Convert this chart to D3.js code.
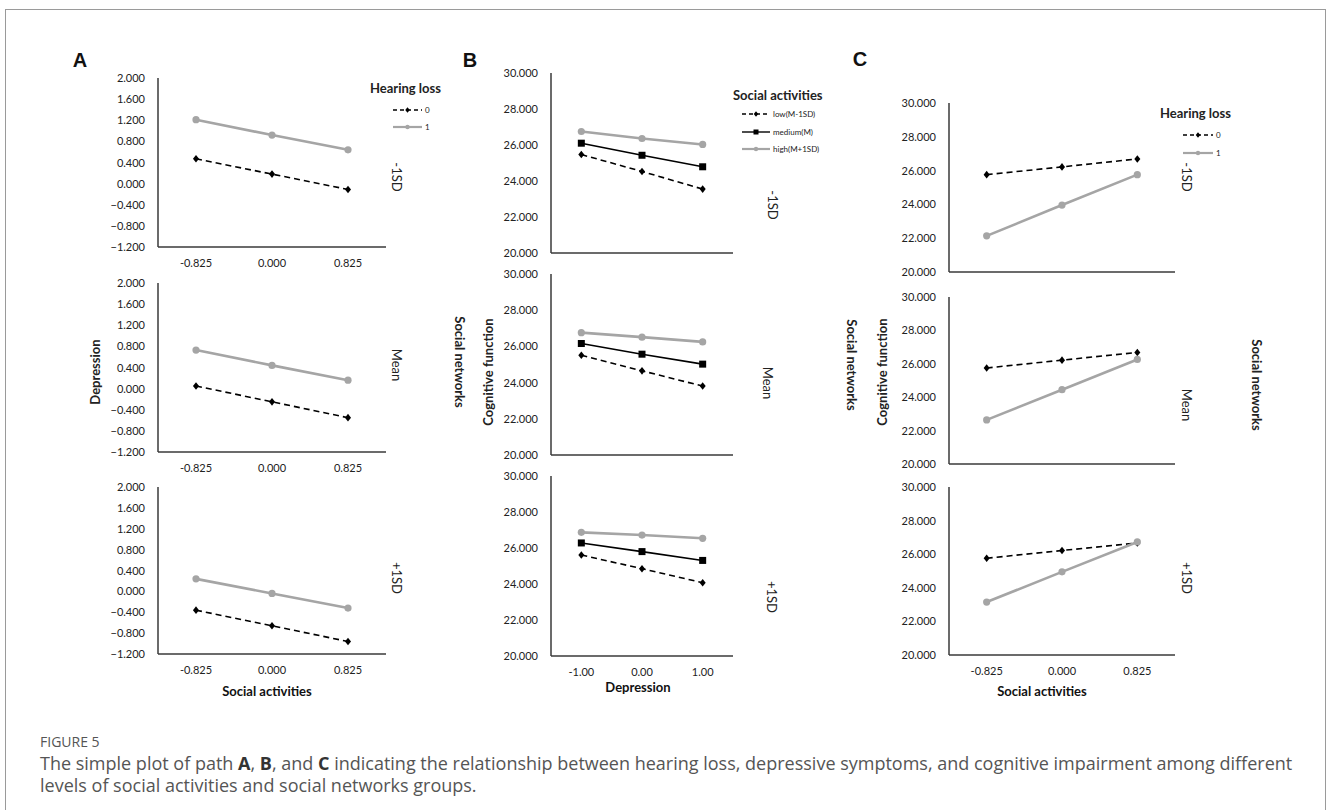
<!DOCTYPE html>
<html>
<head>
<meta charset="utf-8">
<script src="https://cdn.jsdelivr.net/npm/d3@7"></script>
<style>
  html, body { margin: 0; padding: 0; background: #fff; }
  svg { display: block; }
</style>
</head>
<body>
<svg id="chart" width="1328" height="810"></svg>
<script>
// ---------------- DATA ----------------
const catsSocialActivities = ["-0.825", "0.000", "0.825"];
const catsDepression = ["-1.00", "0.00", "1.00"];
const rowLabels = ["-1SD", "Mean", "+1SD"];

const ticksDepression = [-1.2, -0.8, -0.4, 0, 0.4, 0.8, 1.2, 1.6, 2.0];
const ticksCognitive = [20, 22, 24, 26, 28, 30];

// Panel A: Depression by social activities, per social-network level
const A_hearing0 = [[0.47, 0.18, -0.11], [0.05, -0.25, -0.55], [-0.36, -0.66, -0.96]];
const A_hearing1 = [[1.21, 0.92, 0.64], [0.73, 0.44, 0.16], [0.24, -0.04, -0.32]];

// Panel B: Cognitive function by depression, per social-network level
const B_low = [[25.47, 24.53, 23.55], [25.51, 24.65, 23.81], [25.61, 24.85, 24.07]];
const B_medium = [[26.10, 25.43, 24.79], [26.16, 25.57, 25.02], [26.28, 25.80, 25.31]];
const B_high = [[26.75, 26.36, 26.03], [26.76, 26.51, 26.25], [26.87, 26.72, 26.54]];

// Panel C: Cognitive function by social activities, per social-network level
const C_hearing0 = [[25.76, 26.22, 26.69], [25.75, 26.22, 26.68], [25.76, 26.22, 26.67]];
const C_hearing1 = [[22.14, 23.96, 25.76], [22.64, 24.45, 26.26], [23.15, 24.95, 26.73]];

const legendHearing = ["0", "1"];
const legendSocial = ["low(M-1SD)", "medium(M)", "high(M+1SD)"];

// ---------------- STYLE ----------------
const FONT = "Lato, 'Open Sans', sans-serif";
const GRAY = "#a5a5a5";
const AXIS = "#3a3a3a";

const styleDashedDiamond = { stroke: "#000", width: 1.6, dash: "6,4", marker: "diamond" };
const styleGrayCircle = { stroke: GRAY, width: 2.6, dash: null, marker: "circle" };
const styleBlackSquare = { stroke: "#000", width: 1.6, dash: null, marker: "square" };

const svg = d3.select("#chart");

// outer frame
svg.append("rect").attr("x", 5.5).attr("y", 9.5).attr("width", 1320).attr("height", 820)
  .attr("fill", "none").attr("stroke", "#9a9a9a").attr("stroke-width", 1);

function diamondPath(x, y, r) {
  return `M${x},${y - r}L${x + r * 0.8},${y}L${x},${y + r}L${x - r * 0.8},${y}Z`;
}

function drawSubplot(opts) {
  const { x0, x1, yTop, yBot, cats, domain, ticks, series, showX, rowLabel, rowX, rowY } = opts;
  const g = svg.append("g");
  const x = d3.scaleBand().domain(cats).range([x0, x1]);
  const y = d3.scaleLinear().domain(domain).range([yBot, yTop]);

  const yAxis = d3.axisLeft(y).tickValues(ticks).tickFormat(d3.format(".3f")).tickSize(0).tickPadding(13);
  const ya = g.append("g").attr("transform", `translate(${x0},0)`).call(yAxis);
  ya.select(".domain").remove();
  ya.selectAll("text").attr("font-family", FONT).attr("font-size", 11).attr("fill", "#222");
  g.append("line").attr("x1", x0).attr("x2", x0).attr("y1", yTop).attr("y2", yBot)
    .attr("stroke", AXIS).attr("stroke-width", 1.5);

  const xAxis = d3.axisBottom(x).tickSize(0).tickPadding(12);
  const xa = g.append("g").attr("transform", `translate(0,${yBot})`).call(xAxis);
  xa.select(".domain").remove();
  xa.selectAll("text").attr("font-family", FONT).attr("font-size", 11).attr("fill", "#222")
    .style("display", showX ? null : "none");
  g.append("line").attr("x1", x0).attr("x2", x1).attr("y1", yBot).attr("y2", yBot)
    .attr("stroke", AXIS).attr("stroke-width", 1.5);

  series.forEach(s => {
    const pts = s.values.map((v, i) => [x(cats[i]) + x.bandwidth() / 2, y(v)]);
    g.append("path").attr("d", d3.line()(pts)).attr("fill", "none")
      .attr("stroke", s.style.stroke).attr("stroke-width", s.style.width)
      .attr("stroke-dasharray", s.style.dash);
    pts.forEach(p => {
      if (s.style.marker === "diamond") {
        g.append("path").attr("d", diamondPath(p[0], p[1], 3.8)).attr("fill", "#000");
      } else if (s.style.marker === "square") {
        g.append("rect").attr("x", p[0] - 3.5).attr("y", p[1] - 3.5).attr("width", 7).attr("height", 7).attr("fill", "#000");
      } else {
        g.append("circle").attr("cx", p[0]).attr("cy", p[1]).attr("r", 3.6).attr("fill", GRAY);
      }
    });
  });

  g.append("text").attr("transform", `translate(${rowX},${rowY}) rotate(90)`)
    .attr("text-anchor", "middle").attr("dominant-baseline", "central")
    .attr("font-family", FONT).attr("font-size", 13).attr("fill", "#222").text(rowLabel);
}

function drawLegend(x, y, title, items, styles, lineX0, lineX1, itemYs) {
  const g = svg.append("g");
  g.append("text").attr("x", x).attr("y", y).attr("dominant-baseline", "central")
    .attr("font-family", FONT).attr("font-size", 13).attr("font-weight", "bold").attr("fill", "#222").text(title);
  items.forEach((it, i) => {
    const st = styles[i];
    const yy = itemYs[i];
    g.append("line").attr("x1", lineX0).attr("x2", lineX1).attr("y1", yy).attr("y2", yy)
      .attr("stroke", st.stroke).attr("stroke-width", st.marker === "circle" ? 2.2 : 1.4)
      .attr("stroke-dasharray", st.dash ? "4,3" : null);
    const mx = (lineX0 + lineX1) / 2;
    if (st.marker === "diamond") g.append("path").attr("d", diamondPath(mx, yy, 2.8)).attr("fill", "#000");
    else if (st.marker === "square") g.append("rect").attr("x", mx - 2.5).attr("y", yy - 2.5).attr("width", 5).attr("height", 5).attr("fill", "#000");
    else g.append("circle").attr("cx", mx).attr("cy", yy).attr("r", 2.2).attr("fill", GRAY);
    g.append("text").attr("x", lineX1 + 3).attr("y", yy).attr("dominant-baseline", "central")
      .attr("font-family", FONT).attr("font-size", 8).attr("fill", "#222").text(it);
  });
}

function vText(x, y, txt, rot, bold) {
  svg.append("text").attr("transform", `translate(${x},${y}) rotate(${rot})`)
    .attr("text-anchor", "middle").attr("dominant-baseline", "central")
    .attr("font-family", FONT).attr("font-size", 13).attr("font-weight", bold ? "bold" : "normal")
    .attr("fill", "#222").text(txt);
}
function hText(x, y, txt, size, bold, family) {
  svg.append("text").attr("x", x).attr("y", y).attr("text-anchor", "middle").attr("dominant-baseline", "central")
    .attr("font-family", family || FONT).attr("font-size", size).attr("font-weight", bold ? "bold" : "normal")
    .attr("fill", "#111").text(txt);
}

// ---------------- PANEL A ----------------
const A_layout = [
  { yTop: 78, yBot: 247, rowX: 397, rowY: 177 },
  { yTop: 283, yBot: 452, rowX: 397, rowY: 365 },
  { yTop: 487, yBot: 654, rowX: 397, rowY: 578 }
];
A_layout.forEach((L, i) => drawSubplot({
  x0: 158, x1: 386, yTop: L.yTop, yBot: L.yBot, cats: catsSocialActivities,
  domain: [-1.2, 2.0], ticks: ticksDepression,
  series: [{ values: A_hearing0[i], style: styleDashedDiamond }, { values: A_hearing1[i], style: styleGrayCircle }],
  showX: true, rowLabel: rowLabels[i], rowX: L.rowX, rowY: L.rowY
}));
drawLegend(370, 88, "Hearing loss", legendHearing, [styleDashedDiamond, styleGrayCircle], 393, 422, [110, 127]);
vText(95, 372, "Depression", -90, true);
hText(267, 691, "Social activities", 13, true);
hText(80, 60, "A", 20, true, "'Liberation Sans', Arial, sans-serif");

// ---------------- PANEL B ----------------
const B_layout = [
  { yTop: 73, yBot: 253, rowX: 773, rowY: 205 },
  { yTop: 274, yBot: 455, rowX: 768, rowY: 383 },
  { yTop: 476, yBot: 656, rowX: 772, rowY: 597 }
];
B_layout.forEach((L, i) => drawSubplot({
  x0: 551, x1: 733, yTop: L.yTop, yBot: L.yBot, cats: catsDepression,
  domain: [20, 30], ticks: ticksCognitive,
  series: [{ values: B_low[i], style: styleDashedDiamond }, { values: B_medium[i], style: styleBlackSquare }, { values: B_high[i], style: styleGrayCircle }],
  showX: i === 2, rowLabel: rowLabels[i], rowX: L.rowX, rowY: L.rowY
}));
drawLegend(733, 95, "Social activities", legendSocial, [styleDashedDiamond, styleBlackSquare, styleGrayCircle], 742, 770, [114, 132, 149]);
vText(460, 362, "Social networks", 90, true);
vText(488, 372, "Cognitive function", -90, true);
hText(638, 687, "Depression", 13, true);
hText(470, 60, "B", 20, true, "'Liberation Sans', Arial, sans-serif");

// ---------------- PANEL C ----------------
const C_layout = [
  { yTop: 103, yBot: 272, rowX: 1187, rowY: 177 },
  { yTop: 297, yBot: 464, rowX: 1187, rowY: 405 },
  { yTop: 487, yBot: 655, rowX: 1187, rowY: 578 }
];
C_layout.forEach((L, i) => drawSubplot({
  x0: 949, x1: 1175, yTop: L.yTop, yBot: L.yBot, cats: catsSocialActivities,
  domain: [20, 30], ticks: ticksCognitive,
  series: [{ values: C_hearing0[i], style: styleDashedDiamond }, { values: C_hearing1[i], style: styleGrayCircle }],
  showX: i === 2, rowLabel: rowLabels[i], rowX: L.rowX, rowY: L.rowY
}));
drawLegend(1160, 113, "Hearing loss", legendHearing, [styleDashedDiamond, styleGrayCircle], 1183, 1213, [135, 153]);
vText(852, 365, "Social networks", 90, true);
vText(882, 372, "Cognitive function", -90, true);
vText(1257, 385, "Social networks", 90, true);
hText(1042, 691, "Social activities", 13, true);
hText(860, 59, "C", 20, true, "'Liberation Sans', Arial, sans-serif");

// ---------------- CAPTION ----------------
const CAP = "'Open Sans', 'Noto Sans', sans-serif";
svg.append("text").attr("x", 40).attr("y", 747).attr("font-family", CAP).attr("font-size", 14)
  .attr("fill", "#555").text("FIGURE 5");
const cap1 = svg.append("text").attr("x", 40).attr("y", 770).attr("font-family", CAP).attr("font-size", 18).attr("fill", "#555");
[["The simple plot of path ", false], ["A", true], [", ", false], ["B", true], [", and ", false], ["C", true],
 [" indicating the relationship between hearing loss, depressive symptoms, and cognitive impairment among different", false]]
  .forEach(([t, b]) => cap1.append("tspan").attr("font-weight", b ? "bold" : "normal").attr("fill", b ? "#333" : "#555").text(t));
svg.append("text").attr("x", 40).attr("y", 792).attr("font-family", CAP).attr("font-size", 18).attr("fill", "#555")
  .text("levels of social activities and social networks groups.");
</script>
</body>
</html>
